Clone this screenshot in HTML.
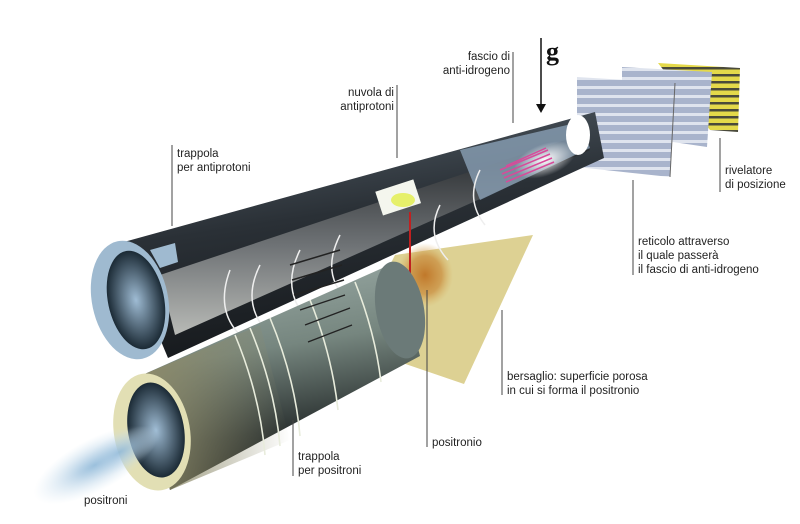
<!DOCTYPE html>
<html><head><meta charset="utf-8"><style>
html,body{margin:0;padding:0;background:#fff;}
svg{display:block;}
text{font-family:"Liberation Sans",sans-serif;font-size:11.5px;fill:#222;}
</style></head><body>
<svg width="800" height="524" viewBox="0 0 800 524" xmlns="http://www.w3.org/2000/svg">
<defs>
<linearGradient id="tubeOut" x1="0" y1="0" x2="0.3" y2="1">
<stop offset="0" stop-color="#5a6670"/><stop offset="0.5" stop-color="#2a3036"/><stop offset="1" stop-color="#15181b"/></linearGradient>
<linearGradient id="inner" x1="0" y1="0" x2="0" y2="1">
<stop offset="0" stop-color="#1e2124"/><stop offset="0.55" stop-color="#6e7275"/><stop offset="1" stop-color="#b8bab6"/></linearGradient>
<linearGradient id="greenTube" x1="0" y1="0" x2="0.2" y2="1">
<stop offset="0" stop-color="#a0b0ac"/><stop offset="0.45" stop-color="#76867f"/><stop offset="0.8" stop-color="#2e3534"/><stop offset="1" stop-color="#151818"/></linearGradient>
<linearGradient id="greenL" x1="0" y1="0" x2="1" y2="0">
<stop offset="0" stop-color="#8c8a6a"/><stop offset="1" stop-color="#8c8a6a" stop-opacity="0"/></linearGradient>
<radialGradient id="blob"><stop offset="0" stop-color="#c0782a"/><stop offset="0.6" stop-color="#c98a3a" stop-opacity="0.7"/><stop offset="1" stop-color="#d9b060" stop-opacity="0"/></radialGradient>
<radialGradient id="spray"><stop offset="0" stop-color="#8fb8d8"/><stop offset="1" stop-color="#cfe2f0" stop-opacity="0"/></radialGradient>
<radialGradient id="hole"><stop offset="0" stop-color="#9fbcd4"/><stop offset="1" stop-color="#1b2a35"/></radialGradient>
<radialGradient id="glow"><stop offset="0" stop-color="#ffffff"/><stop offset="1" stop-color="#ffffff" stop-opacity="0"/></radialGradient>
<pattern id="bluestripe" width="10" height="9" patternUnits="userSpaceOnUse"><rect width="10" height="9" fill="#a9b4cc"/><rect y="5" width="10" height="3" fill="#dfe4ee"/></pattern>
<pattern id="ystripe" width="10" height="7" patternUnits="userSpaceOnUse"><rect width="10" height="7" fill="#e4d94a"/><rect y="4" width="10" height="2.5" fill="#4a4a3a"/></pattern>
</defs>

<polygon points="658,63 740,68 738,132 710,130" fill="url(#ystripe)"/>
<polygon points="622,67 712,72 707,147 673,142 622,140" fill="url(#bluestripe)"/>
<polygon points="577,77 675,83 670,177 577,167" fill="url(#bluestripe)"/>
<line x1="675" y1="83" x2="670" y2="177" stroke="#666" stroke-width="1"/>

<polygon points="395,255 533,235 464,384 350,345" fill="#ddd193"/>
<ellipse cx="425" cy="275" rx="28" ry="32" fill="url(#blob)"/>

<polygon points="120,243 595,112 604,158 168,358" fill="url(#tubeOut)"/>
<polygon points="160,275 580,135 590,150 175,335" fill="url(#inner)"/>
<polygon points="460,150 580,122 590,148 480,200" fill="#8aa0b5" opacity="0.8"/>
<ellipse cx="545" cy="160" rx="32" ry="16" fill="url(#glow)" transform="rotate(-20 545 160)"/>
<ellipse cx="578" cy="135" rx="12" ry="20" fill="#fff"/>
<g stroke="#d94a9a" stroke-width="1.5">
<line x1="500" y1="170" x2="548" y2="150"/><line x1="502" y1="174" x2="550" y2="154"/><line x1="504" y1="178" x2="552" y2="158"/><line x1="506" y1="182" x2="554" y2="162"/><line x1="506" y1="166" x2="546" y2="148"/>
</g>
<rect x="378" y="185" width="40" height="25" fill="#f4f6ee" transform="rotate(-18 398 197)"/>
<ellipse cx="403" cy="200" rx="12" ry="7" fill="#e6f06a"/>
<line x1="410" y1="212" x2="410" y2="275" stroke="#c02020" stroke-width="2"/>
<g fill="none" stroke="#eee" stroke-width="1.5">
<path d="M260 265 q-20 40 10 70"/><path d="M300 250 q-20 40 8 70"/><path d="M340 235 q-20 40 8 65"/>
<path d="M230 270 q-15 40 10 65"/><path d="M440 205 q-15 30 8 55"/><path d="M480 170 q-15 30 5 55"/>
</g>
<g stroke="#222" stroke-width="1.5">
<line x1="290" y1="265" x2="340" y2="250"/><line x1="292" y1="280" x2="342" y2="265"/><line x1="294" y1="295" x2="344" y2="280"/><line x1="296" y1="310" x2="346" y2="295"/>
</g>
<ellipse cx="130" cy="300" rx="38" ry="60" fill="#9fbad0" transform="rotate(-12 130 300)"/>
<ellipse cx="136" cy="300" rx="28" ry="50" fill="url(#hole)" transform="rotate(-12 136 300)"/>
<polygon points="150,250 175,243 178,262 160,268" fill="#9fbad0"/>

<polygon points="140,376 396,262 420,356 170,490" fill="url(#greenTube)"/>
<polygon points="140,376 260,325 290,440 170,490" fill="url(#greenL)"/>
<ellipse cx="400" cy="310" rx="24" ry="49" fill="#6b7a78" transform="rotate(-10 400 310)"/>
<g fill="none" stroke="#e8ecdc" stroke-width="1.6">
<path d="M235 335 q25 60 30 120"/><path d="M250 328 q25 60 30 118"/><path d="M270 318 q25 60 30 118"/>
<path d="M310 300 q22 55 28 110"/><path d="M355 282 q20 50 26 100"/>
</g>
<g stroke="#222" stroke-width="1.3">
<line x1="300" y1="310" x2="345" y2="295"/><line x1="305" y1="325" x2="350" y2="308"/><line x1="308" y1="342" x2="352" y2="325"/>
</g>
<ellipse cx="152" cy="432" rx="38" ry="59" fill="#e2dfb4" transform="rotate(-10 152 432)"/>
<ellipse cx="156" cy="430" rx="28" ry="48" fill="url(#hole)" transform="rotate(-10 156 430)"/>
<ellipse cx="95" cy="465" rx="68" ry="26" fill="url(#spray)" transform="rotate(-28 95 465)"/>
<ellipse cx="120" cy="452" rx="45" ry="18" fill="url(#spray)" transform="rotate(-28 120 452)" opacity="0.8"/>

<line x1="541" y1="38" x2="541" y2="108" stroke="#111" stroke-width="1.5"/>
<polygon points="536,104 546,104 541,113" fill="#111"/>
<text x="546" y="60" style="font-family:'Liberation Serif',serif;font-size:26px;font-weight:bold;fill:#111">g</text>

<g stroke="#444" stroke-width="1">
<line x1="172" y1="145" x2="172" y2="226"/>
<line x1="397" y1="85" x2="397" y2="158"/>
<line x1="513" y1="52" x2="513" y2="123"/>
<line x1="720" y1="138" x2="720" y2="192"/>
<line x1="633" y1="180" x2="633" y2="275"/>
<line x1="502" y1="310" x2="502" y2="395"/>
<line x1="427" y1="290" x2="427" y2="447"/>
<line x1="293" y1="420" x2="293" y2="476"/>
</g>
<text x="177" y="157">trappola</text><text x="177" y="171">per antiprotoni</text>
<text x="394" y="96" text-anchor="end">nuvola di</text><text x="394" y="110" text-anchor="end">antiprotoni</text>
<text x="510" y="60" text-anchor="end">fascio di</text><text x="510" y="74" text-anchor="end">anti-idrogeno</text>
<text x="725" y="174">rivelatore</text><text x="725" y="188">di posizione</text>
<text x="638" y="245">reticolo attraverso</text><text x="638" y="259">il quale passerà</text><text x="638" y="273">il fascio di anti-idrogeno</text>
<text x="507" y="380">bersaglio: superficie porosa</text><text x="507" y="394">in cui si forma il positronio</text>
<text x="432" y="446">positronio</text>
<text x="298" y="460">trappola</text><text x="298" y="474">per positroni</text>
<text x="84" y="504">positroni</text>
</svg>
</body></html>
